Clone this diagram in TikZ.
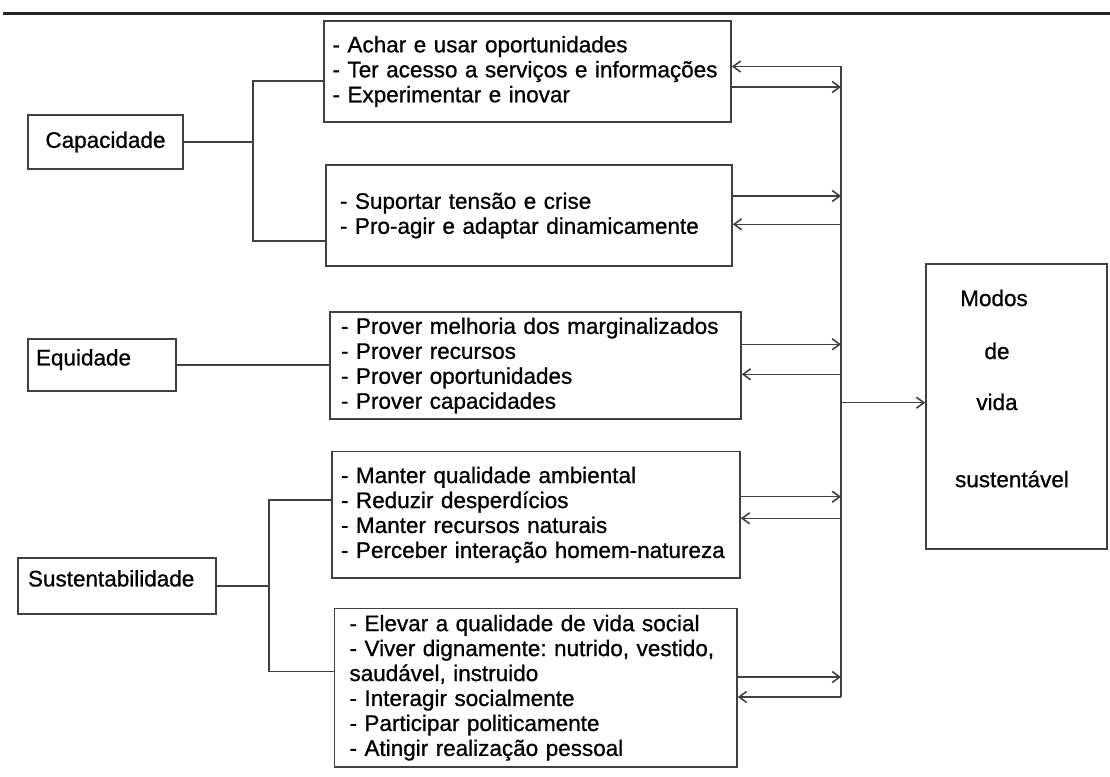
\documentclass[tikz,border=0pt]{standalone}
\usepackage{fontspec}
\setmainfont[FakeBold=0.8]{Liberation Sans}
\usetikzlibrary{arrows.meta}
\frenchspacing

\begin{document}
\begin{tikzpicture}[
    line/.style={draw=black!75, line width=0.9pt},
    box/.style={line, rectangle, text=black, font=\fontsize{12.8}{14.2}\selectfont},
    themebox/.style={box, align=left, text height=9pt, text depth=8.5pt},
    itembox/.style={box, align=left},
    word/.style={text=black, font=\fontsize{12.8}{14.2}\selectfont},
    >={Straight Barb[length=1.5mm,width=2.2mm]}
  ]

        \useasboundingbox (0,0) rectangle (22.2,15.52);

        % Rule at the top
        \draw[black!85, line width=1.2pt] (0.06,15.25) -- (22.2,15.25);

        % Themes on the left
        \node[box, minimum width=3.1cm, minimum height=1.08cm] (cap) at (2.11,12.68) {Capacidade};
        \node[themebox, text width=2.64cm, inner xsep=0.16cm, minimum height=1.04cm] (equ) at (2.04,8.22) {Equidade};
        \node[themebox, text width=3.56cm, inner xsep=0.2cm, minimum height=1.12cm] (sus) at (2.34,3.80) {Sustentabilidade};

        % Lists in the middle
        \node[itembox, text width=7.80cm, inner xsep=0.17cm, minimum height=2.02cm] (acesso) at (10.55,14.09)
            {- Achar e usar oportunidades\\\mbox{- Ter acesso a serviços e informações}\\- Experimentar e inovar};
        \node[itembox, text width=7.56cm, inner xsep=0.28cm, minimum height=2.02cm] (crise) at (10.58,11.21)
            {- Suportar tensão e crise\\- Pro-agir e adaptar dinamicamente};
        \node[itembox, text width=7.78cm, inner xsep=0.22cm, minimum height=2.10cm] (prover) at (10.71,8.21)
            {\mbox{- Prover melhoria dos marginalizados}\\- Prover recursos\\- Prover oportunidades\\- Prover capacidades};
        \node[itembox, text width=7.80cm, inner xsep=0.18cm, minimum height=2.53cm] (ambiente) at (10.72,5.225)
            {- Manter qualidade ambiental\\- Reduzir desperdícios\\- Manter recursos naturais\\\mbox{- Perceber interação homem-natureza}};
        \node[itembox, text width=7.45cm, inner xsep=0.30cm, minimum height=3.17cm] (social) at (10.715,1.765)
            {- Elevar a qualidade de vida social\\\mbox{- Viver dignamente: nutrido, vestido,}\\saudável, instruido\\- Interagir socialmente\\- Participar politicamente\\- Atingir realização pessoal};

        % Box on the right
        \node[box, minimum width=3.62cm, minimum height=5.70cm] (modos) at (20.33,7.39) {};
        \node[word] (modos1) at (19.88,9.56) {Modos};
        \node[word] (modos2) at (19.94,8.50) {de};
        \node[word] (modos3) at (19.94,7.48) {vida};
        \node[word] (modos4) at (20.24,5.94) {sustentável};

        % Brackets on the left
        \coordinate (captop) at (5.06,13.90);
        \coordinate (capbot) at (5.06,10.70);
        \draw[line] (cap.east) -- (cap.east -| captop);
        \draw[line] (captop -| acesso.west) -- (captop) -- (capbot) -- (capbot -| crise.west);

        \draw[line] (equ.east) -- (equ.east -| prover.west);

        \coordinate (sustop) at (5.38,5.52);
        \coordinate (susbot) at (5.38,2.094);
        \draw[line] (sus.east) -- (sus.east -| sustop);
        \draw[line] (sustop -| ambiente.west) -- (sustop) -- (susbot) -- (susbot -| social.west);

        % Points on the vertical line
        \coordinate (acesso-in)    at (16.82,14.19);
        \coordinate (acesso-out)   at (16.82,13.78);
        \coordinate (crise-out)    at (16.82,11.60);
        \coordinate (crise-in)     at (16.82,11.034);
        \coordinate (prover-out)   at (16.82,8.634);
        \coordinate (prover-in)    at (16.82,8.034);
        \coordinate (modos-in)     at (16.82,7.466);
        \coordinate (ambiente-out) at (16.82,5.586);
        \coordinate (ambiente-in)  at (16.82,5.154);
        \coordinate (social-out)   at (16.82,1.98);
        \coordinate (social-in)    at (16.82,1.58);

        \draw[line] (acesso-in) -- (social-in);

        % Arrows to and from the lists
        \draw[line,->] (acesso-in) -- (acesso-in -| acesso.east);
        \draw[line,->] (acesso.east |- acesso-out) -- (acesso-out);
        \draw[line,->] (crise.east |- crise-out) -- (crise-out);
        \draw[line,->] (crise-in) -- (crise-in -| crise.east);
        \draw[line,->] (prover.east |- prover-out) -- (prover-out);
        \draw[line,->] (prover-in) -- (prover-in -| prover.east);
        \draw[line,->] (ambiente.east |- ambiente-out) -- (ambiente-out);
        \draw[line,->] (ambiente-in) -- (ambiente-in -| ambiente.east);
        \draw[line,->] (social.east |- social-out) -- (social-out);
        \draw[line,->] (social-in) -- (social-in -| social.east);

        % Arrow to the right box
        \draw[line,->] (modos-in) -- (modos-in -| modos.west);

    \end{tikzpicture}
\end{document}
